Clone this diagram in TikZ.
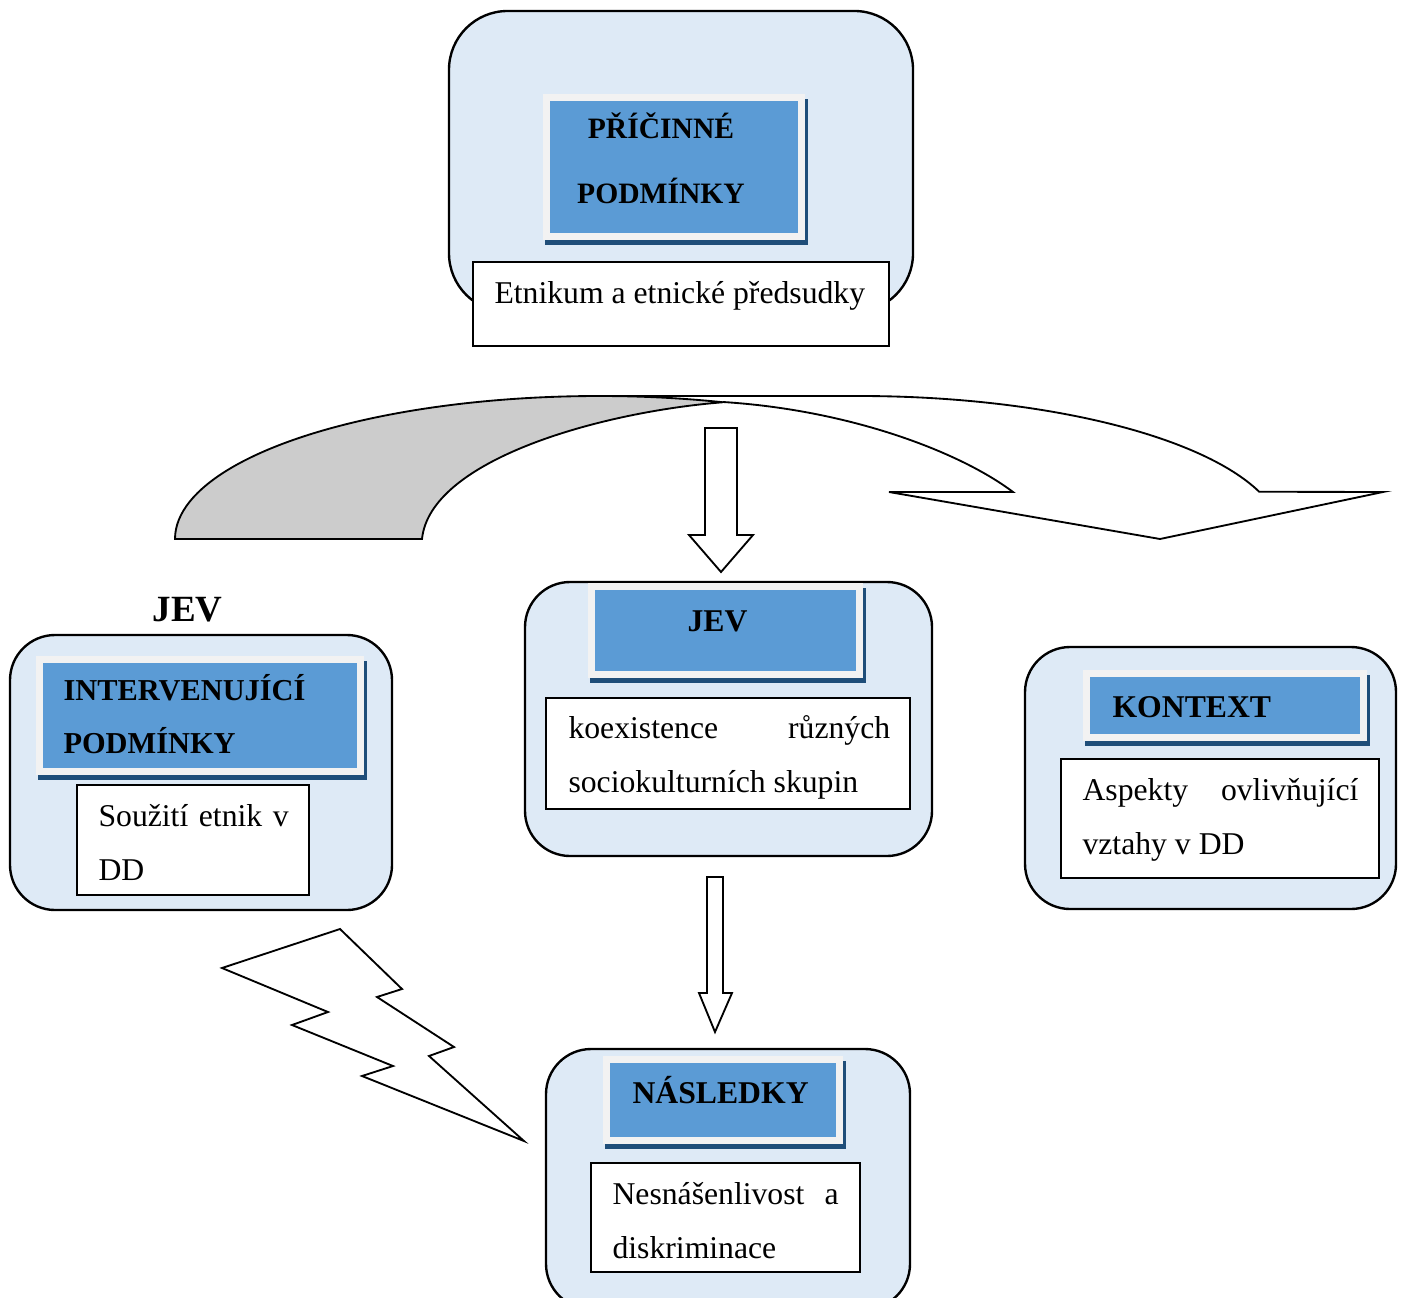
\documentclass[tikz,border=0pt]{standalone}
\usepackage{fontspec}
\setmainfont{Liberation Serif}
\usepackage{tikz}
\definecolor{boxfill}{RGB}{222,234,246}
\definecolor{hdrblue}{RGB}{91,155,213}
\definecolor{hdrrim}{RGB}{242,242,242}
\definecolor{hdrshadow}{RGB}{31,78,121}
\definecolor{arrowgray}{RGB}{204,204,204}
\hyphenpenalty=10000
\exhyphenpenalty=10000
\tikzset{
  outerbox/.style={draw=black, fill=boxfill, line width=0.9pt, rounded corners=0.6cm},
  textbox/.style={draw=black, fill=white, line width=0.75pt},
  blockarrow/.style={draw=black, fill=white, line width=0.7pt, line join=miter},
  hdrtext/.style={font=\bfseries\fontsize{12}{20}\selectfont, anchor=base west,
    inner sep=0pt, align=left},
  bodytext/.style={font=\fontsize{12}{20.8}\selectfont, anchor=base west,
    inner sep=0pt, align=justify}
}
% blue title plate: shadow, light rim, blue face
\newcommand{\hdrplate}[4]{%
  \fill[hdrshadow] (#1+2,#2+5) rectangle (#3+3,#4+5);
  \fill[hdrrim] (#1,#2) rectangle (#3,#4);
  \fill[hdrblue] (#1+7,#2+7) rectangle (#3-7,#4-7);
}

\begin{document}
\begin{tikzpicture}[x=0.0133cm, y=-0.0133cm]
  \useasboundingbox (0,0) rectangle (1405,1297);
  \clip (0,0) rectangle (1405,1297);

  % Cause conditions at the top
  \draw[outerbox, rounded corners=0.78cm] (449,11) rectangle (913,312);
  \hdrplate{543}{94}{805}{240}
  \node[hdrtext, align=center, anchor=base, font=\bfseries\fontsize{11.2}{24.9}\selectfont]
    (cause_hdr) at (661,204) {PŘÍČINNÉ\\PODMÍNKY};
  \draw[textbox] (473,262) rectangle (889,346);
  \node[bodytext] (cause_txt) at (494,303) {Etnikum a etnické předsudky};

  % Curved arrow: grey back part, white front part with head
  \filldraw[fill=arrowgray, line width=0.7pt] (175,539)
    arc[start angle=180, end angle=287, x radius=424, y radius=143]
    .. controls (600,412) and (430,460) .. (422,539) -- cycle;
  \draw[line width=0.7pt, line join=miter] (599,396) -- (859,396)
    arc[start angle=270, end angle=340.7, x radius=424, y radius=143]
    -- (1383,492) -- (1160,539) -- (889,492) -- (1013,492)
    .. controls (960,452) and (850,410) .. (723,402);

  % Straight arrow down to the phenomenon
  \draw[blockarrow] (705,428) -- (737,428) -- (737,535) -- (753,535)
    -- (721,572) -- (689,535) -- (705,535) -- cycle;

  % Intervening conditions (left)
  \node[font=\bfseries\fontsize{14}{16}\selectfont, anchor=base west, inner sep=0pt]
    (jev_lbl) at (152,621) {JEV};
  \draw[outerbox] (10,635) rectangle (392,910);
  \hdrplate{36}{656}{364}{775}
  \node[hdrtext, font=\bfseries\fontsize{11.5}{20}\selectfont]
    (interv_hdr) at (63,753) {INTERVENUJÍCÍ\\PODMÍNKY};
  \draw[textbox] (77,785) rectangle (309,895);
  \node[bodytext, text width=2.53cm] (interv_txt) at (98,826) {Soužití etnik v DD};

  % Phenomenon (centre)
  \draw[outerbox] (525,582) rectangle (932,856);
  \hdrplate{588}{583}{863}{678}
  \node[hdrtext] (jev_hdr) at (687,631) {JEV};
  \draw[textbox] (546,698) rectangle (910,809);
  \node[bodytext, text width=4.28cm] (jev_txt) at (568,738)
    {koexistence různých sociokulturních skupin};

  % Context (right)
  \draw[outerbox] (1025,647) rectangle (1396,909);
  \hdrplate{1083}{670}{1367}{741}
  \node[hdrtext] (ctx_hdr) at (1112,717) {KONTEXT};
  \draw[textbox] (1061,759) rectangle (1379,878);
  \node[bodytext, text width=3.67cm] (ctx_txt) at (1082,800)
    {Aspekty ovlivňující vztahy v DD};

  % Arrow down and lightning to the consequences
  \draw[blockarrow] (707,877) -- (723,877) -- (723,993) -- (732,993)
    -- (715,1032) -- (699,993) -- (707,993) -- cycle;
  \draw[blockarrow] (340,929) -- (402,989) -- (377,997) -- (454,1047)
    -- (429,1056) -- (524,1141) -- (362,1076) -- (393,1066) -- (292,1025)
    -- (328,1012) -- (222,968) -- cycle;

  % Consequences (bottom)
  \draw[outerbox] (546,1049) rectangle (910,1309);
  \hdrplate{603}{1056}{843}{1144}
  \node[hdrtext] (cons_hdr) at (632,1103) {NÁSLEDKY};
  \draw[textbox] (591,1163) rectangle (860,1272);
  \node[bodytext, text width=3.01cm] (cons_txt) at (612,1204)
    {Nesnášenlivost a diskriminace};
\end{tikzpicture}
\end{document}
